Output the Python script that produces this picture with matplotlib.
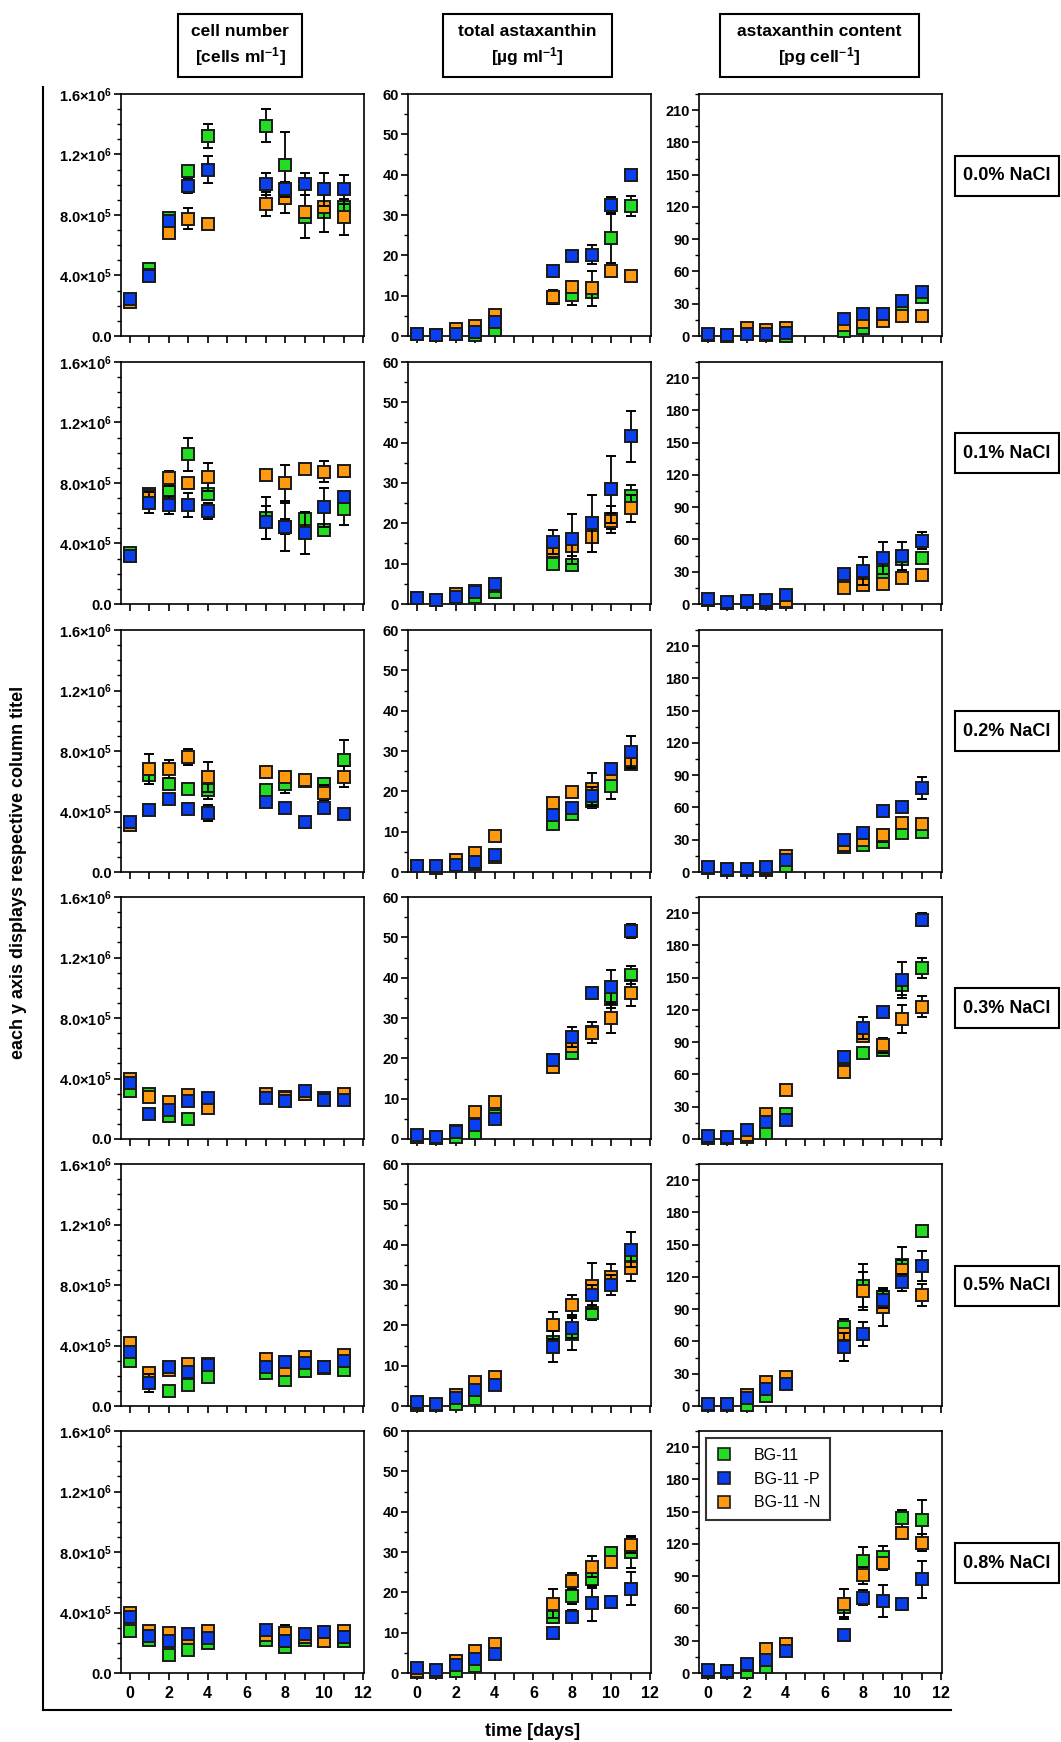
import numpy as np
import matplotlib
matplotlib.use("Agg")
import matplotlib.pyplot as plt
from matplotlib.ticker import MultipleLocator, FuncFormatter
from matplotlib.patches import Rectangle
from matplotlib.lines import Line2D

plt.rcParams['font.family'] = ['Liberation Sans', 'DejaVu Sans']
plt.rcParams['font.weight'] = 'bold'
plt.rcParams['mathtext.fontset'] = 'custom'
plt.rcParams['mathtext.rm'] = 'Liberation Sans:bold'
plt.rcParams['mathtext.bf'] = 'Liberation Sans:bold'
plt.rcParams['mathtext.it'] = 'Liberation Sans:bold:italic'

days = [0, 1, 2, 3, 4, 7, 8, 9, 10, 11]
nacl = ['0.0% NaCl', '0.1% NaCl', '0.2% NaCl', '0.3% NaCl', '0.5% NaCl', '0.8% NaCl']
media = ['BG-11', 'BG-11 -P', 'BG-11 -N']
colors = ['#22dd22', '#0a3ff0', '#ff9a10']

# cell number, in 1e5 cells/ml, one row per NaCl level
cells_g = [[2.4, 4.4, 7.8, 10.9, 13.2, 13.9, 11.3, 7.9, 8.2, 8.5],
           [3.4, 7.3, 7.4, 9.9, 7.3, 5.7, 5.1, 5.6, 4.9, 6.3],
           [3.2, 6.4, 5.8, 5.5, 5.4, 5.4, 5.8, 6.0, 5.8, 7.4],
           [3.2, 3.0, 1.5, 1.3, 2.6, 2.8, 2.8, 3.0, 2.7, 2.7],
           [3.0, 1.8, 1.0, 1.4, 1.9, 2.2, 1.7, 2.3, 2.5, 2.4],
           [2.8, 2.2, 1.2, 1.5, 2.0, 2.2, 1.7, 2.2, 2.1, 2.1]]
cells_g_err = [[0.1, 0.2, 0.3, 0.2, 0.8, 1.1, 2.2, 1.4, 0.3, 0.3],
               [0.1, 0.15, 0.15, 1.1, 0.2, 1.4, 0.5, 0.5, 0.4, 1.1],
               [0.1, 0.6, 0.3, 0.3, 0.6, 0.3, 0.6, 0.3, 0.4, 1.3],
               [0.2, 0.1, 0.2, 0.2, 0.2, 0.2, 0.2, 0.2, 0.2, 0.2],
               [0.15, 0.15, 0.15, 0.15, 0.15, 0.15, 0.15, 0.15, 0.15, 0.15],
               [0.15, 0.15, 0.15, 0.15, 0.15, 0.15, 0.15, 0.15, 0.15, 0.15]]
cells_p = [[2.45, 3.95, 7.6, 9.9, 11.0, 10.05, 9.7, 10.05, 9.7, 9.7],
           [3.15, 6.7, 6.55, 6.55, 6.15, 5.4, 5.1, 4.7, 6.4, 7.1],
           [3.3, 4.1, 4.8, 4.15, 3.9, 4.6, 4.25, 3.3, 4.25, 3.85],
           [3.7, 1.65, 1.95, 2.5, 2.7, 2.7, 2.5, 3.15, 2.6, 2.6],
           [3.55, 1.5, 2.6, 2.25, 2.7, 2.6, 2.9, 2.85, 2.6, 3.0],
           [3.7, 2.45, 2.1, 2.55, 2.3, 2.85, 2.1, 2.6, 2.7, 2.4]]
cells_p_err = [[0.1, 0.3, 0.2, 0.45, 0.9, 0.7, 0.5, 0.7, 1.1, 0.95],
               [0.1, 0.7, 0.6, 0.8, 0.5, 1.1, 1.6, 1.4, 1.3, 0.3],
               [0.15, 0.15, 0.2, 0.2, 0.5, 0.2, 0.2, 0.2, 0.2, 0.2],
               [0.2, 0.2, 0.2, 0.2, 0.3, 0.2, 0.2, 0.2, 0.2, 0.2],
               [0.2, 0.6, 0.2, 0.2, 0.3, 0.3, 0.3, 0.3, 0.2, 0.3],
               [0.2, 0.3, 0.3, 0.2, 0.3, 0.3, 0.4, 0.3, 0.4, 0.3]]
cells_n = [[2.25, 4.0, 6.8, 7.75, 7.4, 8.75, 9.15, 8.2, 8.5, 7.85],
           [3.2, 7.15, 8.3, 8.0, 8.4, 8.5, 8.0, 8.95, 8.75, 8.8],
           [3.1, 6.8, 6.8, 7.6, 6.3, 6.6, 6.3, 6.1, 5.25, 6.3],
           [4.0, 2.75, 2.45, 2.9, 2.05, 3.0, 2.7, 3.0, 2.6, 3.0],
           [4.15, 2.2, 2.4, 2.8, 2.8, 3.1, 2.35, 3.25, 2.6, 3.4],
           [3.95, 2.8, 2.65, 2.3, 2.8, 2.5, 2.65, 2.4, 2.1, 2.75]]
cells_n_err = [[0.1, 0.2, 0.2, 0.7, 0.4, 0.8, 1.0, 0.4, 1.6, 1.2],
               [0.1, 0.3, 0.5, 0.3, 0.9, 0.2, 1.2, 0.2, 0.7, 0.2],
               [0.1, 1.0, 0.6, 0.55, 1.0, 0.3, 0.3, 0.3, 0.5, 0.7],
               [0.2, 0.3, 0.2, 0.2, 0.4, 0.2, 0.2, 0.2, 0.2, 0.3],
               [0.2, 0.3, 0.2, 0.2, 0.2, 0.3, 0.3, 0.3, 0.2, 0.2],
               [0.2, 0.3, 0.2, 0.2, 0.2, 0.3, 0.5, 0.3, 0.3, 0.2]]

# total astaxanthin, ug/ml
total_g = [[0.5, 0.2, 0.4, 0.2, 1.5, 9.5, 10.2, 11.0, 24.3, 32.3],
           [1.5, 1.0, 1.5, 1.8, 3.0, 9.8, 9.6, 16.5, 21.0, 26.8],
           [1.5, 1.0, 2.0, 2.0, 3.8, 12.0, 14.5, 17.5, 21.2, 26.7],
           [0.5, 0.2, 0.5, 1.5, 5.8, 19.5, 21.2, 26.5, 34.8, 40.7],
           [0.3, 0.3, 0.5, 1.7, 5.5, 15.9, 17.8, 23.1, 31.0, 37.5],
           [0.3, 0.3, 0.5, 1.8, 5.8, 13.9, 19.2, 23.3, 29.7, 30.0]]
total_g_err = [[0.3, 0.2, 0.3, 0.3, 0.5, 1.0, 2.4, 1.0, 6.2, 2.5],
               [0.3, 0.3, 0.3, 0.3, 0.5, 1.2, 1.5, 1.0, 3.3, 2.6],
               [0.3, 0.3, 0.3, 0.3, 0.5, 0.8, 1.0, 1.6, 3.0, 1.2],
               [0.3, 0.2, 0.3, 0.6, 0.6, 1.0, 1.0, 1.5, 2.2, 2.3],
               [0.3, 0.3, 0.3, 0.6, 0.6, 1.2, 4.0, 1.8, 2.0, 1.0],
               [0.3, 0.3, 0.3, 0.5, 0.6, 1.5, 2.0, 2.2, 1.5, 4.0]]
total_p = [[0.5, 0.2, 0.5, 1.0, 3.4, 16.0, 19.8, 20.2, 32.4, 39.8],
           [1.6, 1.0, 1.8, 2.9, 5.0, 15.3, 16.1, 20.0, 28.4, 41.6],
           [1.6, 1.4, 1.7, 2.6, 4.2, 14.1, 15.9, 18.9, 25.6, 29.8],
           [1.0, 0.6, 1.8, 3.5, 4.9, 19.7, 25.3, 36.3, 37.7, 51.6],
           [1.0, 0.5, 1.9, 4.0, 5.2, 14.7, 19.4, 27.5, 30.0, 38.8],
           [1.2, 0.7, 2.1, 3.5, 4.8, 9.9, 14.0, 17.3, 17.5, 20.9]]
total_p_err = [[0.3, 0.2, 0.3, 0.6, 1.0, 1.2, 1.0, 2.3, 2.1, 1.0],
               [0.3, 0.3, 0.3, 0.5, 0.5, 3.0, 6.3, 7.0, 8.3, 6.3],
               [0.3, 0.3, 0.3, 0.5, 0.6, 1.5, 1.0, 2.2, 1.0, 4.0],
               [0.3, 0.3, 0.6, 0.6, 0.6, 1.0, 2.4, 0.8, 4.3, 1.7],
               [0.3, 0.3, 0.6, 0.6, 0.6, 3.9, 2.6, 2.5, 2.4, 4.3],
               [0.3, 0.3, 0.6, 0.6, 0.6, 1.0, 1.5, 4.3, 1.5, 4.1]]
total_n = [[0.5, 0.3, 1.8, 2.4, 5.1, 9.7, 12.1, 11.8, 16.2, 14.9],
           [1.5, 1.0, 2.6, 3.2, 4.5, 13.2, 14.3, 16.6, 20.6, 23.7],
           [1.5, 1.2, 3.0, 4.8, 8.9, 17.2, 19.9, 20.5, 24.2, 27.7],
           [0.5, 0.3, 2.0, 6.6, 9.2, 17.9, 23.1, 26.4, 30.1, 36.1],
           [0.5, 0.3, 2.7, 6.0, 7.3, 20.0, 25.0, 29.7, 32.0, 34.3],
           [0.5, 0.3, 2.9, 5.4, 7.3, 17.2, 22.9, 26.4, 27.6, 31.8]]
total_n_err = [[0.3, 0.2, 0.3, 0.5, 0.5, 1.8, 1.5, 4.4, 1.0, 1.0],
               [0.3, 0.3, 0.3, 0.5, 0.5, 1.5, 2.5, 3.6, 2.0, 3.3],
               [0.3, 0.3, 0.5, 0.8, 0.6, 1.0, 1.0, 4.1, 1.0, 1.5],
               [0.3, 0.3, 0.5, 0.6, 0.6, 0.8, 1.5, 2.5, 3.8, 3.2],
               [0.3, 0.3, 0.5, 1.0, 1.0, 3.4, 2.5, 5.7, 3.3, 3.3],
               [0.3, 0.3, 0.5, 1.0, 1.0, 3.6, 2.0, 2.5, 1.0, 2.0]]

# astaxanthin content, pg/cell
content_g = [[1, 0, 3, 1, 0, 5, 7, 15, 27, 36],
             [4, 1, 2, 1, 2, 20, 19, 30, 42, 43],
             [4, 2, 2, 2, 6, 23, 25, 28, 36, 37],
             [1, 1, 2, 6, 23, 74, 80, 83, 143, 159],
             [1, 1, 1, 9, 24, 73, 112, 101, 131, 163],
             [1, 1, 1, 6, 24, 61, 104, 108, 144, 142]]
content_g_err = [[1, 1, 1, 1, 1, 2, 2, 2, 3, 2],
                 [1, 1, 1, 1, 1, 3, 3, 5, 4, 3],
                 [1, 1, 1, 1, 2, 2, 3, 3, 4, 3],
                 [1, 1, 2, 2, 3, 3, 3, 3, 9, 9],
                 [1, 1, 1, 2, 3, 8, 20, 8, 17, 3],
                 [1, 1, 1, 2, 3, 9, 13, 10, 8, 19]]
content_p = [[2, 0.5, 2, 2, 3, 16, 20, 20, 33, 41],
             [5, 2, 3, 4, 8, 28, 31, 43, 45, 59],
             [5, 3, 3, 5, 11, 30, 36, 57, 60, 78],
             [3, 2, 8, 16, 18, 76, 103, 118, 148, 204],
             [2, 2, 7, 16, 20, 55, 67, 99, 115, 130],
             [3, 2, 8, 12, 20, 35, 70, 67, 64, 87]]
content_p_err = [[1, 1, 1, 1, 1, 3, 3, 3, 3, 3],
                 [1, 1, 1, 1, 2, 4, 13, 15, 13, 8],
                 [1, 1, 1, 1, 2, 3, 4, 4, 3, 10],
                 [1, 1, 2, 3, 3, 3, 10, 3, 17, 6],
                 [1, 1, 2, 3, 3, 13, 11, 8, 8, 14],
                 [1, 1, 2, 3, 3, 3, 7, 15, 5, 17]]
content_n = [[1, 0.5, 7, 6, 7, 10, 13, 14, 19, 19],
             [4, 1, 2, 2, 3, 15, 18, 19, 24, 27],
             [4, 2, 2, 3, 15, 25, 30, 34, 46, 45],
             [2, 1, 4, 23, 46, 62, 96, 87, 112, 123],
             [2, 2, 10, 22, 27, 67, 107, 92, 126, 103],
             [2, 2, 7, 22, 27, 64, 91, 102, 130, 121]]
content_n_err = [[1, 1, 1, 1, 1, 2, 3, 3, 3, 2],
                 [1, 1, 1, 1, 1, 2, 2, 2, 2, 2],
                 [1, 1, 1, 1, 2, 3, 3, 6, 3, 3],
                 [1, 1, 2, 3, 3, 3, 4, 7, 13, 10],
                 [1, 1, 2, 3, 3, 5, 18, 18, 10, 10],
                 [1, 1, 2, 3, 3, 14, 8, 6, 4, 8]]

col_titles = ['cell number\n[cells ml$^{-1}$]',
              'total astaxanthin\n[µg ml$^{-1}$]',
              'astaxanthin content\n[pg cell$^{-1}$]']


def cell_fmt(v, pos):
    if v <= 0:
        return '0.0'
    e = int(np.floor(np.log10(v) + 1e-9))
    return f'{v / 10**e:.1f}×10$^{{{e}}}$'


# per column: (series, errors, scale, ylim, major, minor)
columns = [
    ((cells_g, cells_n, cells_p), (cells_g_err, cells_n_err, cells_p_err), 1e5, 1.6e6, 4e5, 1e5),
    ((total_g, total_n, total_p), (total_g_err, total_n_err, total_p_err), 1, 60, 10, 5),
    ((content_g, content_n, content_p), (content_g_err, content_n_err, content_p_err), 1, 225, 30, 15),
]
draw_colors = [colors[0], colors[2], colors[1]]

W, H = 1061, 1742
fig = plt.figure(figsize=(W / 100, H / 100), dpi=100)


def fx(x):
    return x / W


def fy(y):
    return 1 - y / H


col_left = [121, 408, 699]
row_top = [94, 362, 630, 897, 1164, 1431]
aw, ah = 243, 242

for r in range(6):
    for c in range(3):
        ax = fig.add_axes([fx(col_left[c]), fy(row_top[r] + ah), aw / W, ah / H])
        series, errs, scale, ytop, major, minor = columns[c]
        for k in range(3):
            y = np.array(series[k][r]) * scale
            e = np.array(errs[k][r]) * scale
            ax.errorbar(days, y, yerr=e, fmt='s', ms=9, mfc=draw_colors[k],
                        mec='#1a1a1a', mew=1.4, ecolor='black', elinewidth=1.3,
                        capsize=3.5, capthick=1.3, clip_on=False, zorder=3 + k)
        ax.set_xlim(-0.45, 12.05)
        ax.set_ylim(0, ytop)
        ax.xaxis.set_major_locator(MultipleLocator(1))
        ax.yaxis.set_major_locator(MultipleLocator(major))
        ax.yaxis.set_minor_locator(MultipleLocator(minor))
        if c == 0:
            ax.yaxis.set_major_formatter(FuncFormatter(cell_fmt))
        else:
            ax.yaxis.set_major_formatter(FuncFormatter(lambda v, p: f'{v:.0f}'))
        if r == 5:
            ax.xaxis.set_major_formatter(
                FuncFormatter(lambda v, p: f'{v:.0f}' if round(v) % 2 == 0 else ''))
        else:
            ax.xaxis.set_major_formatter(FuncFormatter(lambda v, p: ''))
        ax.tick_params(axis='both', which='major', direction='out', length=5, width=1.2)
        ax.tick_params(axis='y', which='minor', direction='out', length=3, width=1.0)
        ax.tick_params(axis='y', labelsize=10.5, pad=1.5)
        ax.tick_params(axis='x', labelsize=11.5, pad=4)
        for sp in ax.spines.values():
            sp.set_linewidth(1.2)
        if r == 5 and c == 2:
            handles = [Line2D([], [], ls='none', marker='s', ms=8, mfc=colors[i],
                              mec='#1a1a1a', mew=1.2) for i in range(3)]
            leg = ax.legend(handles, media, loc='upper left', bbox_to_anchor=(0.03, 0.97),
                            borderaxespad=0, frameon=True, fancybox=False,
                            edgecolor='black', handlelength=1.0, handletextpad=1.4,
                            borderpad=0.6, labelspacing=0.55,
                            prop={'weight': 'normal', 'size': 11.5})
            leg.get_frame().set_linewidth(1.5)

# column title boxes
title_boxes = [(178, 302), (443, 612), (720, 919)]
for (x0, x1), t in zip(title_boxes, col_titles):
    fig.add_artist(Rectangle((fx(x0), fy(77)), (x1 - x0) / W, 63 / H,
                             transform=fig.transFigure, fill=False, lw=1.5, ec='black'))
    fig.text(fx((x0 + x1) / 2), fy(46), t, ha='center', va='center',
             fontsize=12.5, fontweight='bold', linespacing=1.35)

# NaCl level boxes on the right
label_y = [176, 453, 731, 1008, 1286, 1563]
for y, t in zip(label_y, nacl):
    fig.add_artist(Rectangle((fx(955), fy(y + 20)), 104 / W, 40 / H,
                             transform=fig.transFigure, fill=False, lw=1.5, ec='black'))
    fig.text(fx(1007), fy(y), t, ha='center', va='center', fontsize=13, fontweight='bold')

# outer frame and shared labels
fig.add_artist(Line2D([fx(43), fx(43)], [fy(87), fy(1710)], transform=fig.transFigure,
                      color='black', lw=1.5))
fig.add_artist(Line2D([fx(43), fx(951)], [fy(1710), fy(1710)], transform=fig.transFigure,
                      color='black', lw=1.5))
fig.text(fx(19), fy(872), 'each y axis displays respective column titel', rotation=90,
         ha='center', va='center', fontsize=13, fontweight='bold')
fig.text(fx(533), fy(1731), 'time [days]', ha='center', va='center',
         fontsize=13, fontweight='bold')

fig.savefig('out.png', dpi=100)
